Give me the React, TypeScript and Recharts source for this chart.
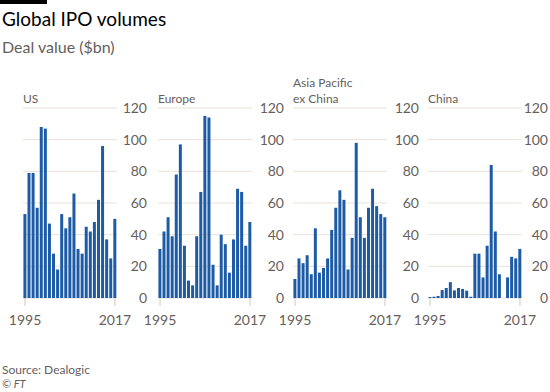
import { BarChart, Bar, XAxis, YAxis, CartesianGrid } from 'recharts';

const years = [
  '1995', '1996', '1997', '1998', '1999', '2000', '2001', '2002', '2003', '2004', '2005', '2006',
  '2007', '2008', '2009', '2010', '2011', '2012', '2013', '2014', '2015', '2016', '2017',
];

// Deal value ($bn)
const usValues = [53, 79, 79, 57, 108, 107, 47, 28, 18, 53, 44, 51, 66, 31, 28, 45, 42, 48, 62, 96, 37, 25, 50];
const europeValues = [31, 42, 51, 39, 78, 97, 33, 11, 8, 39, 67, 115, 114, 21, 8, 40, 34, 16, 37, 69, 67, 33, 48];
const asiaValues = [12, 25, 22, 27, 15, 44, 16, 19, 25, 43, 57, 68, 62, 18, 38, 98, 51, 38, 57, 69, 58, 53, 51];
const chinaValues = [0.6, 0.8, 1.3, 5, 6.3, 10, 4.8, 6.3, 5.7, 4.6, 0.8, 28, 28, 13, 33, 84, 42, 15, 0, 13, 26, 25, 31];

const yTicks = [0, 20, 40, 60, 80, 100, 120];

const panels = [
  { key: 'us', label: ['US'], values: usValues, left: 23, labelOffset: 30 },
  { key: 'europe', label: ['Europe'], values: europeValues, left: 158, labelOffset: 32 },
  { key: 'asia', label: ['Asia Pacific', 'ex China'], values: asiaValues, left: 293, labelOffset: 32 },
  { key: 'china', label: ['China'], values: chinaValues, left: 428, labelOffset: 26 },
];

const FONT = 'Lato, "Open Sans", sans-serif';
const GREY = '#66605c';
const BLUE = '#1d5ba6';

const YTick = ({ x, y, payload, offset }: any) => (
  <text x={x + offset} y={y} dy={5} textAnchor="end" fontSize={14} fill={GREY} fontFamily={FONT}>
    {payload.value}
  </text>
);

function Panel({ values, left, labelOffset }: { values: number[]; left: number; labelOffset: number }) {
  const data = years.map((year, i) => ({ year, value: values[i] }));
  return (
    <div style={{ position: 'absolute', left: left - 20, top: 98 }}>
      <BarChart width={155} height={232} data={data} margin={{ top: 10, right: 0, left: 20, bottom: 0 }} barCategoryGap="10%">
        <CartesianGrid vertical={false} stroke="#e9e1d9" />
        <XAxis
          dataKey="year"
          interval={21}
          axisLine={false}
          tickLine={{ stroke: '#cfc7bf' }}
          tickSize={8}
          tickMargin={9}
          height={32}
          tick={{ fontSize: 14, fill: GREY, fontFamily: FONT }}
        />
        <YAxis
          orientation="right"
          domain={[0, 120]}
          ticks={yTicks}
          width={41}
          axisLine={false}
          tickLine={false}
          tickSize={0}
          tickMargin={0}
          tick={<YTick offset={labelOffset} />}
        />
        <Bar dataKey="value" fill={BLUE} isAnimationActive={false} />
      </BarChart>
    </div>
  );
}

export default function App() {
  return (
    <div style={{ position: 'absolute', left: 0, top: 0, width: 550, height: 392, background: '#fff', fontFamily: FONT, overflow: 'hidden' }}>
      <div style={{ position: 'absolute', left: 0, top: 0, width: 47, height: 4, background: '#000' }} />
      <div style={{ position: 'absolute', left: 2, top: 9, fontSize: 19, lineHeight: '19px', color: '#000', whiteSpace: 'nowrap' }}>
        Global IPO volumes
      </div>
      <div style={{ position: 'absolute', left: 2, top: 39, fontSize: 16, lineHeight: '16px', color: GREY, whiteSpace: 'nowrap' }}>
        Deal value ($bn)
      </div>
      {panels.map((p) => (
        <div
          key={p.key + '-label'}
          style={{
            position: 'absolute',
            left: p.left,
            top: 104 - 12.6 - (p.label.length - 1) * 16,
            fontSize: 12,
            lineHeight: '16px',
            color: GREY,
            whiteSpace: 'nowrap',
          }}
        >
          {p.label.map((l) => (
            <div key={l}>{l}</div>
          ))}
        </div>
      ))}
      {panels.map((p) => (
        <Panel key={p.key} values={p.values} left={p.left} labelOffset={p.labelOffset} />
      ))}
      <div style={{ position: 'absolute', left: 2, top: 363, fontSize: 12, lineHeight: '14px', color: GREY, whiteSpace: 'nowrap' }}>
        Source: Dealogic
      </div>
      <div style={{ position: 'absolute', left: 2, top: 377, fontSize: 11, lineHeight: '14px', color: GREY, fontStyle: 'italic', whiteSpace: 'nowrap' }}>
        © FT
      </div>
    </div>
  );
}
